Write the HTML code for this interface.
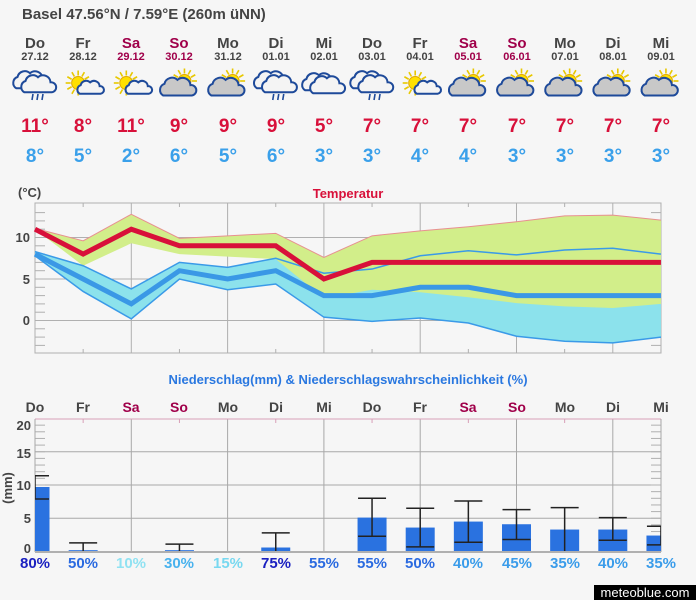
<!DOCTYPE html>
<html><head><meta charset="utf-8"><style>
html,body{margin:0;padding:0;background:#f6f6f6}
svg{display:block;font-family:"Liberation Sans",Arial,sans-serif;font-weight:bold}
</style></head><body>
<svg id="s" width="696" height="600" viewBox="0 0 696 600" xmlns="http://www.w3.org/2000/svg">
<rect width="696" height="600" fill="#f6f6f6"/>
<g id="bg"></g>
<text x="22" y="19" font-size="15" fill="#444">Basel  47.56°N / 7.59°E (260m üNN)</text>
<g font-size="15" fill="#444" text-anchor="middle">
<text x="35" y="48">Do</text><text x="83" y="48">Fr</text><text x="131" y="48" fill="#a0004a">Sa</text><text x="179" y="48" fill="#a0004a">So</text><text x="228" y="48">Mo</text><text x="276" y="48">Di</text><text x="324" y="48">Mi</text><text x="372" y="48">Do</text><text x="420" y="48">Fr</text><text x="468" y="48" fill="#a0004a">Sa</text><text x="517" y="48" fill="#a0004a">So</text><text x="565" y="48">Mo</text><text x="613" y="48">Di</text><text x="661" y="48">Mi</text>
</g>
<g font-size="11" fill="#444" text-anchor="middle">
<text x="35" y="60">27.12</text><text x="83" y="60">28.12</text><text x="131" y="60" fill="#a0004a">29.12</text><text x="179" y="60" fill="#a0004a">30.12</text><text x="228" y="60">31.12</text><text x="276" y="60">01.01</text><text x="324" y="60">02.01</text><text x="372" y="60">03.01</text><text x="420" y="60">04.01</text><text x="468" y="60" fill="#a0004a">05.01</text><text x="517" y="60" fill="#a0004a">06.01</text><text x="565" y="60">07.01</text><text x="613" y="60">08.01</text><text x="661" y="60">09.01</text>
</g>
<g id="icons"></g>
<g font-size="19" fill="#d8103a" text-anchor="middle">
<text x="35" y="132">11°</text><text x="83" y="132">8°</text><text x="131" y="132">11°</text><text x="179" y="132">9°</text><text x="228" y="132">9°</text><text x="276" y="132">9°</text><text x="324" y="132">5°</text><text x="372" y="132">7°</text><text x="420" y="132">7°</text><text x="468" y="132">7°</text><text x="517" y="132">7°</text><text x="565" y="132">7°</text><text x="613" y="132">7°</text><text x="661" y="132">7°</text>
</g>
<g font-size="19" fill="#3aa0ea" text-anchor="middle">
<text x="35" y="162">8°</text><text x="83" y="162">5°</text><text x="131" y="162">2°</text><text x="179" y="162">6°</text><text x="228" y="162">5°</text><text x="276" y="162">6°</text><text x="324" y="162">3°</text><text x="372" y="162">3°</text><text x="420" y="162">4°</text><text x="468" y="162">4°</text><text x="517" y="162">3°</text><text x="565" y="162">3°</text><text x="613" y="162">3°</text><text x="661" y="162">3°</text>
</g>
<text x="18" y="197" font-size="13" fill="#444">(°C)</text>
<text x="348" y="198" font-size="13" fill="#d8103a" text-anchor="middle">Temperatur</text>
<g font-size="13" fill="#444" text-anchor="end">
<text x="30" y="242">10</text><text x="30" y="284">5</text><text x="30" y="325">0</text>
</g>
<text x="348" y="384" font-size="13" fill="#2a78e0" text-anchor="middle">Niederschlag(mm) &amp; Niederschlagswahrscheinlichkeit (%)</text>
<g font-size="14" fill="#444" text-anchor="middle">
<text x="35" y="412">Do</text><text x="83" y="412">Fr</text><text x="131" y="412" fill="#a0004a">Sa</text><text x="179" y="412" fill="#a0004a">So</text><text x="228" y="412">Mo</text><text x="276" y="412">Di</text><text x="324" y="412">Mi</text><text x="372" y="412">Do</text><text x="420" y="412">Fr</text><text x="468" y="412" fill="#a0004a">Sa</text><text x="517" y="412" fill="#a0004a">So</text><text x="565" y="412">Mo</text><text x="613" y="412">Di</text><text x="661" y="412">Mi</text>
</g>
<g font-size="13" fill="#444" text-anchor="end">
<text x="31" y="430">20</text><text x="31" y="458">15</text><text x="31" y="490">10</text><text x="31" y="523">5</text><text x="31" y="553">0</text>
</g>
<text transform="translate(12,488) rotate(-90)" font-size="13" fill="#444" text-anchor="middle">(mm)</text>
<g font-size="15" text-anchor="middle">
<text x="35" y="568" fill="#1a20c0">80%</text><text x="83" y="568" fill="#2a6ae0">50%</text><text x="131" y="568" fill="#90e2f2">10%</text><text x="179" y="568" fill="#48b2ee">30%</text><text x="228" y="568" fill="#78d8f0">15%</text><text x="276" y="568" fill="#1a20c0">75%</text><text x="324" y="568" fill="#2a6ae0">55%</text><text x="372" y="568" fill="#2a6ae0">55%</text><text x="420" y="568" fill="#2a6ae0">50%</text><text x="468" y="568" fill="#3a9cea">40%</text><text x="517" y="568" fill="#3a9cea">45%</text><text x="565" y="568" fill="#3a9cea">35%</text><text x="613" y="568" fill="#3a9cea">40%</text><text x="661" y="568" fill="#3a9cea">35%</text>
</g>
<rect x="594" y="585" width="102" height="15" fill="#000"/>
<text x="645" y="597" font-size="13" fill="#fff" text-anchor="middle" font-weight="normal">meteoblue.com</text>
<script>
(function(){
var NS="http://www.w3.org/2000/svg";
function el(p,t,a){var e=document.createElementNS(NS,t);for(var k in a)e.setAttribute(k,a[k]);p.appendChild(e);return e;}
var bg=document.getElementById("bg");
var X=function(i){return 35+48.15*i;};
var T=function(v){return 320.5-8.3*v;};
var P=function(v){return 551.5-6.65*v;};
for(var i=0;i<14;i+=2){el(bg,"line",{x1:X(i),y1:203,x2:X(i),y2:353,stroke:"#b0b0b0","stroke-width":1});}
for(var i=1;i<14;i+=2){el(bg,"line",{x1:X(i),y1:203,x2:X(i),y2:207,stroke:"#b0b0b0"});el(bg,"line",{x1:X(i),y1:349,x2:X(i),y2:353,stroke:"#b0b0b0"});}
[0,5,10].forEach(function(v){el(bg,"line",{x1:35,y1:T(v),x2:661,y2:T(v),stroke:"#b0b0b0"});});
for(var v=-3;v<=13;v++){el(bg,"line",{x1:35,y1:T(v),x2:45,y2:T(v),stroke:"#b0b0b0"});el(bg,"line",{x1:651,y1:T(v),x2:661,y2:T(v),stroke:"#b0b0b0"});}
el(bg,"rect",{x:35,y:203,width:626,height:150,fill:"none",stroke:"#b0b0b0"});
var maxL=[11,8,11,9,9,9,5,7,7,7,7,7,7,7];
var maxU=[11.1,9.6,12.8,9.9,10.2,10.5,7.6,10.2,10.8,11.3,11.9,12.6,12.7,12.1];
var maxD=[11,6.6,9.3,8,7.7,7.4,2.7,3.7,3.4,2.8,2.1,1.7,1.5,2.0];
var minL=[8,5,2,6,5,6,3,3,4,4,3,3,3,3];
var minU=[8.3,6.6,3.8,7.0,6.4,7.5,5.7,6.2,7.8,8.4,7.9,8.5,8.7,8.0];
var minD=[7.8,3.5,0.2,5.0,3.7,4.4,0.4,-0.1,0.3,-0.3,-1.9,-2.5,-2.7,-2.0];
function band(u,d,fill){var s=[];for(var i=0;i<14;i++)s.push(X(i)+","+T(u[i]));for(var i=13;i>=0;i--)s.push(X(i)+","+T(d[i]));el(bg,"polygon",{points:s.join(" "),fill:fill});}
function line(a,c,w){var s=[];for(var i=0;i<14;i++)s.push(X(i)+","+T(a[i]));el(bg,"polyline",{points:s.join(" "),fill:"none",stroke:c,"stroke-width":w,"stroke-linejoin":"miter"});}
band(minU,minD,"#8ce2ec");
band(maxU,maxD,"#d2ee8a");
line(maxU,"#e89090",1);
line(minU,"#3a9ae8",1.5);line(minD,"#3a9ae8",1.5);
line(minL,"#3a98e6",5);
line(maxL,"#d8103a",5);
for(var i=2;i<14;i+=2){el(bg,"line",{x1:X(i),y1:419,x2:X(i),y2:552,stroke:"#a8a8a8"});}
for(var i=1;i<14;i+=2){el(bg,"line",{x1:X(i),y1:419,x2:X(i),y2:423,stroke:"#d8a0b8"});}
[5,10,15].forEach(function(v){el(bg,"line",{x1:35,y1:P(v),x2:661,y2:P(v),stroke:"#a8a8a8"});});
for(var v=1;v<20;v++){el(bg,"line",{x1:35,y1:P(v),x2:45,y2:P(v),stroke:"#b0b0b0"});el(bg,"line",{x1:651,y1:P(v),x2:661,y2:P(v),stroke:"#b0b0b0"});}
el(bg,"line",{x1:35,y1:419,x2:661,y2:419,stroke:"#d8a0b8"});
el(bg,"line",{x1:35,y1:419,x2:35,y2:552,stroke:"#a8a8a8"});
el(bg,"line",{x1:661,y1:419,x2:661,y2:552,stroke:"#a8a8a8"});
var bar=[9.7,0.2,0,0.2,0,0.6,0,5.1,3.6,4.5,4.1,3.3,3.3,2.4];
var wt=[11.4,1.3,0,1.1,0,2.8,0,8.0,6.5,7.6,6.3,6.6,5.1,3.8];
var wb=[7.9,0,0,0,0,0,0,2.3,0.7,1.4,1.8,0,1.7,1.0];
var clip=el(bg,"clipPath",{id:"pc"});el(clip,"rect",{x:35,y:410,width:626,height:142});
var g=el(bg,"g",{"clip-path":"url(#pc)"});
for(var i=0;i<14;i++){
 if(bar[i]>0){el(g,"rect",{x:X(i)-14.5,y:P(bar[i]),width:29,height:551.5-P(bar[i]),fill:"#2a72e0"});}
 if(wt[i]>0){var c="#222";
  el(g,"line",{x1:X(i),y1:P(wt[i]),x2:X(i),y2:P(wb[i]),stroke:c,"stroke-width":1.5});
  el(g,"line",{x1:X(i)-14,y1:P(wt[i]),x2:X(i)+14,y2:P(wt[i]),stroke:c,"stroke-width":1.5});
  if(wb[i]>0)el(g,"line",{x1:X(i)-14,y1:P(wb[i]),x2:X(i)+14,y2:P(wb[i]),stroke:c,"stroke-width":1.5});
 }
}
el(bg,"line",{x1:35,y1:552,x2:661,y2:552,stroke:"#b0b0b0","stroke-width":2});
var ic=document.getElementById("icons");
function sun(p,cx,cy,r){for(var k=0;k<12;k++){var a=k*Math.PI/6;el(p,"line",{x1:cx+Math.cos(a)*(r+1),y1:cy+Math.sin(a)*(r+1),x2:cx+Math.cos(a)*(r+6),y2:cy+Math.sin(a)*(r+6),stroke:"#e8c800","stroke-width":1.6});}el(p,"circle",{cx:cx,cy:cy,r:r,fill:"#ffe000",stroke:"#e0a800"});}
function cloud(p,cx,cy,s,fill){var gg=el(p,"g",{transform:"translate("+cx+","+cy+") scale("+s+")"});
 el(gg,"path",{d:"M-11,5 a5,5 0 0 1 1,-9 a6,6 0 0 1 10,-3 a6,6 0 0 1 10,4 a4,4 0 0 1 1,8 z",fill:fill,stroke:"#1e4a9a","stroke-width":2/s});}
var types=[0,1,1,2,2,0,3,0,1,2,2,2,2,2];
for(var i=0;i<14;i++){var x=X(i),y=86,t=types[i];
 if(t==0){cloud(ic,x-5,y-4,1.25,"#f4f4f4");cloud(ic,x+3,y,1.25,"#f4f4f4");for(var k=0;k<3;k++)el(ic,"line",{x1:x-2+k*5,y1:y+8,x2:x-3+k*5,y2:y+14,stroke:"#1e4a9a","stroke-width":1.6});}
 else if(t==1){sun(ic,x-5,y-3,6.5);cloud(ic,x+7,y+3,0.95,"#f4f4f4");}
 else if(t==2){sun(ic,x+5,y-5,6.5);cloud(ic,x-2,y+3,1.3,"#c8c8c8");}
 else {cloud(ic,x-5,y-2,1.25,"#f4f4f4");cloud(ic,x+3,y+1,1.25,"#f4f4f4");}
}
})();
</script>
</svg>
</body></html>
